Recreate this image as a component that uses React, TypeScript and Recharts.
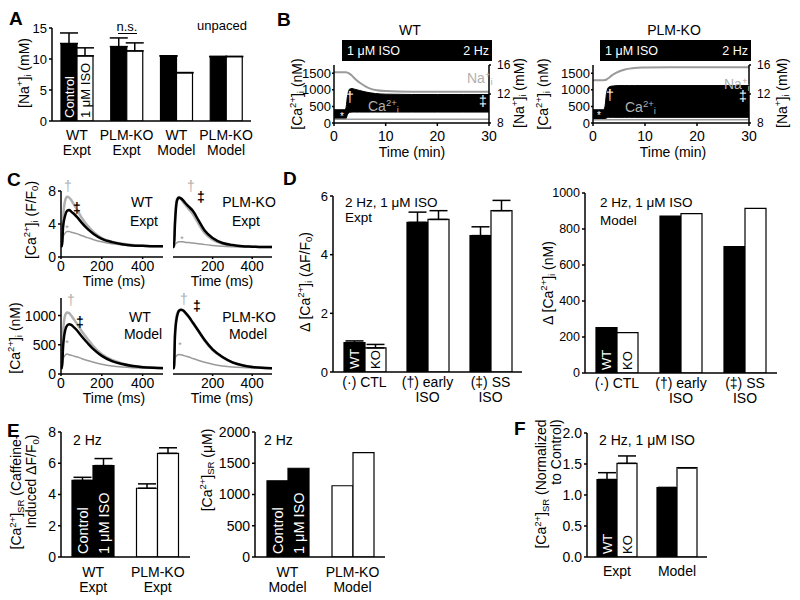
import React from 'react';
import {
  BarChart, Bar, XAxis, YAxis, ErrorBar, Cell, LabelList,
  LineChart, Line, ComposedChart, Area,
} from 'recharts';

const FONT = '"Liberation Sans", Arial, Helvetica, sans-serif';
const GRAY = '#9a9a9a';
const LIGHT = '#b0b0b0';
const BLK = '#000';
const WHT = '#fff';

// A: unpaced [Na]i
const aCats = ['WT\nExpt', 'PLM-KO\nExpt', 'WT\nModel', 'PLM-KO\nModel'];
const aControl = [12.5, 12.0, 10.5, 10.4];
const aControlErr = [1.7, 1.4, 0, 0];
const aIso = [10.5, 11.3, 7.8, 10.4];
const aIsoErr = [1.3, 1.3, 0, 0];
const aCtlText = ['Control', '', '', ''];
const aIsoText = ['1 μM ISO', '', '', ''];

// B: 30 min sweeps
const bTime = [0, 1, 2, 2.3, 2.6, 3, 3.5, 4, 5, 6, 7, 8, 10, 15, 20, 25, 30];
const wtCaSys = [400, 400, 400, 450, 800, 1020, 1040, 1020, 980, 940, 910, 890, 870, 860, 860, 860, 860];
const wtCaDia = [130, 130, 130, 130, 250, 320, 330, 330, 330, 330, 330, 330, 330, 330, 330, 330, 330];
const wtCaMin = [110, 110, 110, 110, 110, 110, 110, 110, 110, 110, 110, 110, 110, 110, 110, 110, 110];
const wtNa = [15.0, 15.0, 15.0, 15.0, 14.95, 14.8, 14.5, 14.15, 13.55, 13.1, 12.75, 12.55, 12.4, 12.3, 12.3, 12.3, 12.3];
const koCaSys = [400, 400, 400, 500, 900, 1080, 1110, 1120, 1130, 1130, 1130, 1130, 1130, 1130, 1130, 1130, 1130];
const koCaDia = [120, 120, 120, 120, 150, 170, 170, 170, 170, 170, 170, 170, 170, 170, 170, 170, 170];
const koCaMin = [100, 100, 100, 100, 100, 100, 100, 100, 100, 100, 100, 100, 100, 100, 100, 100, 100];
const koNa = [13.9, 13.9, 13.9, 13.92, 14.0, 14.2, 14.5, 14.75, 15.1, 15.35, 15.5, 15.6, 15.65, 15.7, 15.7, 15.7, 15.7];

// C: transients (dagger = early ISO, ddagger = steady state ISO, ctl = control)
const cTime = [0, 5, 10, 20, 30, 40, 50, 60, 80, 100, 130, 160, 200, 250, 300, 350, 400, 450, 500];
const wtExptEarly = [1.3, 1.4, 4.5, 6.8, 7.3, 7.2, 6.9, 6.5, 5.7, 4.8, 3.8, 3.0, 2.3, 1.85, 1.6, 1.45, 1.35, 1.3, 1.3];
const wtExptSS = [1.3, 1.3, 3.6, 5.0, 5.6, 5.7, 5.5, 5.3, 4.8, 4.2, 3.4, 2.8, 2.2, 1.8, 1.55, 1.4, 1.35, 1.3, 1.3];
const wtExptCtl = [1.3, 1.3, 2.4, 2.9, 3.1, 3.1, 3.0, 2.95, 2.8, 2.6, 2.35, 2.1, 1.85, 1.6, 1.45, 1.35, 1.3, 1.3, 1.3];
const koExptEarly = [1.2, 1.3, 4.5, 7.0, 7.2, 7.0, 6.7, 6.4, 5.8, 5.2, 4.0, 2.9, 2.1, 1.6, 1.4, 1.3, 1.25, 1.2, 1.2];
const koExptSS = [1.2, 1.2, 4.0, 6.8, 7.2, 7.1, 6.9, 6.6, 6.1, 5.6, 4.4, 3.2, 2.3, 1.7, 1.45, 1.3, 1.25, 1.2, 1.2];
const koExptCtl = [1.2, 1.2, 1.5, 1.75, 1.85, 1.85, 1.85, 1.8, 1.75, 1.7, 1.6, 1.5, 1.4, 1.3, 1.25, 1.22, 1.2, 1.2, 1.2];
const wtModelEarly = [100, 110, 700, 1000, 1050, 1040, 1000, 950, 850, 740, 600, 470, 340, 240, 180, 140, 120, 110, 105];
const wtModelSS = [100, 100, 450, 740, 830, 850, 840, 810, 740, 650, 530, 420, 310, 220, 170, 135, 115, 105, 100];
const wtModelCtl = [100, 100, 250, 320, 340, 330, 320, 310, 290, 265, 230, 200, 165, 135, 118, 108, 104, 102, 100];
const koModelEarly = [100, 110, 720, 1020, 1090, 1100, 1080, 1050, 970, 870, 720, 570, 410, 285, 198, 148, 118, 104, 100];
const koModelSS = [100, 100, 650, 980, 1080, 1100, 1090, 1060, 980, 880, 730, 580, 420, 290, 200, 150, 120, 105, 100];
const koModelCtl = [100, 100, 260, 320, 335, 330, 320, 310, 290, 265, 232, 202, 168, 138, 120, 110, 104, 102, 100];

// D: transient amplitudes
const dCats = ['(·) CTL', '(†) early\nISO', '(‡) SS\nISO'];
const dExptWT = [1.0, 5.1, 4.65];
const dExptWTErr = [0.06, 0.35, 0.3];
const dExptKO = [0.82, 5.2, 5.5];
const dExptKOErr = [0.12, 0.3, 0.35];
const dModelWT = [252, 872, 702];
const dModelKO = [224, 885, 915];
const dWtText = ['WT', '', ''];
const dKoText = ['KO', '', ''];

// E: SR load
const eExptCats = ['WT\nExpt', 'PLM-KO\nExpt'];
const eExptCtl = [4.9, 4.4];
const eExptCtlErr = [0.2, 0.28];
const eExptIso = [5.85, 6.63];
const eExptIsoErr = [0.45, 0.36];
const eModelCats = ['WT\nModel', 'PLM-KO\nModel'];
const eModelCtl = [1220, 1140];
const eModelIso = [1420, 1670];
const eCtlText = ['Control', ''];
const eIsoText = ['1 μM ISO', ''];

// F: normalized SR load
const fCats = ['Expt', 'Model'];
const fWT = [1.25, 1.12];
const fWTErr = [0.11, 0];
const fKO = [1.51, 1.44];
const fKOErr = [0.12, 0];
const fWtText = ['WT', ''];
const fKoText = ['KO', ''];

const AXIS = { stroke: BLK, strokeWidth: 1.5 };
const tk = (s: number) => ({ fontSize: s, fill: BLK, fontFamily: FONT });
const PAD = 10;

function frame(x0: number, x1: number, yTop: number, yBot: number, yw: number, xh: number, rw = 0) {
  return {
    left: x0 - yw,
    top: yTop - PAD,
    width: yw + (x1 - x0) + rw + (rw ? 0 : PAD),
    height: PAD + (yBot - yTop) + xh,
    margin: { top: PAD, right: rw ? 0 : PAD, left: 0, bottom: 0 },
  };
}

const Box = ({ f, children }: any) => (
  <div style={{ position: 'absolute', left: f.left, top: f.top }}>{children}</div>
);

const CatTick = (p: any) => {
  const { x, y, payload, d0 } = p;
  const lines = String(payload.value).split('\n');
  return (
    <text x={x} y={y} textAnchor="middle" fontSize={14} fill={BLK} fontFamily={FONT}>
      {lines.map((l, i) => (
        <tspan key={i} x={x} dy={i === 0 ? d0 : 15}>{l}</tspan>
      ))}
    </text>
  );
};

const InBar = (p: any) => {
  const vb = p.viewBox || p;
  if (!p.value) return null;
  const cx = Number(vb.x) + Number(vb.width) / 2;
  const by = Number(vb.y) + Number(vb.height) - 3;
  return (
    <text x={cx} y={by} transform={`rotate(-90 ${cx} ${by})`} fill={p.color} fontSize={p.size}
      fontFamily={FONT} dominantBaseline="central">{p.value}</text>
  );
};

type Series = { key: string; fills: string[]; err?: string; text?: string; textColor?: string };

function BarPanel(props: any) {
  const { x0, x1, yTop, yBot, yw, domain, ticks, fmt, rows, series, barSize, d0, tickSize = 13, textSize = 13 } = props;
  const f = frame(x0, x1, yTop, yBot, yw, 42);
  return (
    <Box f={f}>
      <BarChart width={f.width} height={f.height} margin={f.margin} data={rows} barGap={0} barSize={barSize}>
        <XAxis dataKey="cat" interval={0} height={42} tickLine={false} tickSize={0} tickMargin={0}
          axisLine={AXIS} tick={(p: any) => <CatTick {...p} d0={d0} />} />
        <YAxis domain={domain} ticks={ticks} width={yw} tickFormatter={fmt} allowDataOverflow interval={0}
          axisLine={AXIS} tickLine={AXIS} tickSize={3} tickMargin={2} tick={tk(tickSize)} />
        {(series as Series[]).map((s) => (
          <Bar key={s.key} dataKey={s.key} stroke={BLK} strokeWidth={1.2} isAnimationActive={false}>
            {rows.map((_: any, i: number) => <Cell key={i} fill={s.fills[i]} />)}
            {s.err ? <ErrorBar dataKey={s.err} width={9} stroke={BLK} strokeWidth={1.5} direction="y" /> : null}
            {s.text ? (
              <LabelList dataKey={s.text} content={(p: any) => <InBar {...p} color={s.textColor} size={textSize} />} />
            ) : null}
          </Bar>
        ))}
      </BarChart>
    </Box>
  );
}

function SweepPanel({ x0, x1, rows }: any) {
  const f = frame(x0, x1, 65, 123, 45, 26, 26);
  return (
    <Box f={f}>
      <ComposedChart width={f.width} height={f.height} margin={f.margin} data={rows}>
        <XAxis type="number" dataKey="t" domain={[0, 30]} ticks={[0, 10, 20, 30]} height={26}
          axisLine={AXIS} tickLine={AXIS} tickSize={3} tickMargin={5} tick={tk(14)} />
        <YAxis yAxisId="ca" domain={[0, 1750]} ticks={[0, 500, 1000, 1500]} width={45} interval={0}
          axisLine={AXIS} tickLine={AXIS} tickSize={2} tickMargin={1} tick={tk(13)} />
        <YAxis yAxisId="na" orientation="right" domain={[8, 16]} ticks={[8, 12, 16]} width={26} interval={0}
          axisLine={AXIS} tickLine={AXIS} tickSize={2} tickMargin={6} tick={tk(12)} />
        <Line yAxisId="ca" dataKey="floor" stroke={GRAY} strokeWidth={1.5} dot={false} isAnimationActive={false} />
        <Area yAxisId="ca" dataKey="ca" type="monotone" stroke={BLK} strokeWidth={1} fill={BLK} fillOpacity={1}
          isAnimationActive={false} />
        <Line yAxisId="na" dataKey="na" type="monotone" stroke={GRAY} strokeWidth={2} dot={false}
          isAnimationActive={false} />
      </ComposedChart>
    </Box>
  );
}

function TracePanel({ x0, x1, yTop, yBot, yw, domain, ticks, early, ss, ctl }: any) {
  const f = frame(x0, x1, yTop, yBot, yw, 24);
  const rows = cTime.map((t, i) => ({ t, early: early[i], ss: ss[i], ctl: ctl[i] }));
  return (
    <Box f={f}>
      <LineChart width={f.width} height={f.height} margin={f.margin} data={rows}>
        <XAxis type="number" dataKey="t" domain={[0, 500]} ticks={[0, 200, 400]} height={24}
          axisLine={AXIS} tickLine={AXIS} tickSize={2} tick={tk(14)} />
        <YAxis domain={domain} ticks={ticks} width={yw} interval={0} axisLine={AXIS}
          tickLine={ticks.length ? AXIS : false} tickSize={3} tickMargin={2} tick={ticks.length ? tk(14) : false} />
        <Line dataKey="ctl" type="monotone" stroke={GRAY} strokeWidth={1.5} dot={false} isAnimationActive={false} />
        <Line dataKey="early" type="monotone" stroke={LIGHT} strokeWidth={2.5} dot={false} isAnimationActive={false} />
        <Line dataKey="ss" type="monotone" stroke={BLK} strokeWidth={2.5} dot={false} isAnimationActive={false} />
      </LineChart>
    </Box>
  );
}

const T = ({ x, y, a = 'm', s = 14, c = BLK, b = false, children }: any) => {
  const tx = a === 'm' ? '-50%' : a === 'e' ? '-100%' : '0';
  return (
    <div style={{ position: 'absolute', left: x, top: y, transform: `translate(${tx}, -50%)`, fontSize: s,
      color: c, fontWeight: b ? 700 : 400, whiteSpace: 'nowrap', lineHeight: 1 }}>{children}</div>
  );
};

const V = ({ x, y, s = 14, children }: any) => (
  <div style={{ position: 'absolute', left: x, top: y, transform: 'translate(-50%, -50%) rotate(-90deg)',
    fontSize: s, whiteSpace: 'nowrap', lineHeight: 1.05, textAlign: 'right' }}>{children}</div>
);

const Sup = ({ children }: any) => (
  <span style={{ fontSize: '0.68em', verticalAlign: '0.55em', lineHeight: 0 }}>{children}</span>
);
const Sub = ({ children }: any) => (
  <span style={{ fontSize: '0.68em', verticalAlign: '-0.25em', lineHeight: 0 }}>{children}</span>
);

const IsoBox = ({ left, width }: any) => (
  <div style={{ position: 'absolute', left, top: 40, width, height: 21, background: BLK, color: WHT, fontSize: 12.5,
    display: 'flex', justifyContent: 'space-between', alignItems: 'center', padding: '0 3px 0 5px',
    boxSizing: 'border-box' }}>
    <span>1 μM ISO</span><span>2 Hz</span>
  </div>
);

const Letter = ({ x, y, children }: any) => <T x={x} y={y} a="s" s={19} b>{children}</T>;

export default function App() {
  const aRows = aCats.map((cat, i) => ({
    cat, ctl: aControl[i], ctlErr: [0, aControlErr[i]], iso: aIso[i], isoErr: [0, aIsoErr[i]],
    ctlText: aCtlText[i], isoText: aIsoText[i],
  }));
  const bWt = bTime.map((t, i) => ({ t, ca: [wtCaDia[i], wtCaSys[i]], floor: wtCaMin[i], na: wtNa[i] }));
  const bKo = bTime.map((t, i) => ({ t, ca: [koCaDia[i], koCaSys[i]], floor: koCaMin[i], na: koNa[i] }));
  const dExptRows = dCats.map((cat, i) => ({
    cat, wt: dExptWT[i], wtErr: [0, dExptWTErr[i]], ko: dExptKO[i], koErr: [0, dExptKOErr[i]],
    wtText: dWtText[i], koText: dKoText[i],
  }));
  const dModelRows = dCats.map((cat, i) => ({
    cat, wt: dModelWT[i], ko: dModelKO[i], wtText: dWtText[i], koText: dKoText[i],
  }));
  const eExptRows = eExptCats.map((cat, i) => ({
    cat, ctl: eExptCtl[i], ctlErr: [0, eExptCtlErr[i]], iso: eExptIso[i], isoErr: [0, eExptIsoErr[i]],
    ctlText: eCtlText[i], isoText: eIsoText[i],
  }));
  const eModelRows = eModelCats.map((cat, i) => ({
    cat, ctl: eModelCtl[i], iso: eModelIso[i], ctlText: eCtlText[i], isoText: eIsoText[i],
  }));
  const fRows = fCats.map((cat, i) => ({
    cat, wt: fWT[i], wtErr: [0, fWTErr[i]], ko: fKO[i], koErr: [0, fKOErr[i]], wtText: fWtText[i], koText: fKoText[i],
  }));

  const byGenotype = [BLK, WHT];

  return (
    <div style={{ position: 'fixed', left: 0, top: 0, width: 800, height: 600, background: WHT,
      fontFamily: FONT, color: BLK, overflow: 'hidden' }}>
      {/* A */}
      <BarPanel x0={52} x1={251} yTop={28} yBot={121} yw={30} domain={[0, 15]} ticks={[0, 5, 10, 15]}
        rows={aRows} barSize={16} d0={19}
        series={[
          { key: 'ctl', fills: [BLK, BLK, BLK, BLK], err: 'ctlErr', text: 'ctlText', textColor: WHT },
          { key: 'iso', fills: [WHT, WHT, WHT, WHT], err: 'isoErr', text: 'isoText', textColor: BLK },
        ]} />
      <Letter x={9} y={18}>A</Letter>
      <V x={24} y={73}>[Na<Sup>+</Sup>]<Sub>i</Sub> (mM)</V>
      <T x={127} y={26} s={13}>n.s.</T>
      <div style={{ position: 'absolute', left: 118, top: 33, width: 19, borderTop: '1.5px solid #000' }} />
      <T x={222} y={25} s={13}>unpaced</T>

      {/* B */}
      <SweepPanel x0={334} x1={489} rows={bWt} />
      <SweepPanel x0={593} x1={749} rows={bKo} />
      <Letter x={277} y={19}>B</Letter>
      <T x={410} y={30}>WT</T>
      <T x={674} y={30}>PLM-KO</T>
      <IsoBox left={342} width={150} />
      <IsoBox left={600} width={151} />
      <V x={297} y={94}>[Ca<Sup>2+</Sup>]<Sub>i</Sub> (nM)</V>
      <V x={519} y={93}>[Na<Sup>+</Sup>]<Sub>i</Sub> (mM)</V>
      <V x={543} y={94}>[Ca<Sup>2+</Sup>]<Sub>i</Sub> (nM)</V>
      <V x={782} y={93}>[Na<Sup>+</Sup>]<Sub>i</Sub> (mM)</V>
      <T x={467} y={78} a="s" c={LIGHT}>Na<Sup>+</Sup><Sub>i</Sub></T>
      <T x={724} y={84} a="s" c={LIGHT}>Na<Sup>+</Sup><Sub>i</Sub></T>
      <T x={368} y={106} a="s" c={LIGHT}>Ca<Sup>2+</Sup><Sub>i</Sub></T>
      <T x={625} y={107} a="s" c={LIGHT}>Ca<Sup>2+</Sup><Sub>i</Sub></T>
      <T x={350} y={97} c={WHT}>†</T>
      <T x={483} y={101} c={WHT}>‡</T>
      <T x={610} y={95} c={WHT}>†</T>
      <T x={743} y={96} c={WHT}>‡</T>
      <T x={342} y={117} s={10} c={WHT}>*</T>
      <T x={599} y={116} s={10} c={WHT}>*</T>
      <T x={412} y={152}>Time (min)</T>
      <T x={673} y={152}>Time (min)</T>

      {/* C */}
      <TracePanel x0={61} x1={163} yTop={191} yBot={257} yw={22} domain={[0, 8]} ticks={[0, 4, 8]}
        early={wtExptEarly} ss={wtExptSS} ctl={wtExptCtl} />
      <TracePanel x0={173} x1={272} yTop={191} yBot={257} yw={0} domain={[0, 8]} ticks={[]}
        early={koExptEarly} ss={koExptSS} ctl={koExptCtl} />
      <TracePanel x0={61} x1={163} yTop={298} yBot={374} yw={42} domain={[0, 1300]} ticks={[0, 500, 1000]}
        early={wtModelEarly} ss={wtModelSS} ctl={wtModelCtl} />
      <TracePanel x0={173} x1={272} yTop={298} yBot={374} yw={0} domain={[0, 1300]} ticks={[]}
        early={koModelEarly} ss={koModelSS} ctl={koModelCtl} />
      <Letter x={7} y={179}>C</Letter>
      <V x={31} y={220}>[Ca<Sup>2+</Sup>]<Sub>i</Sub> (F/F<Sub>0</Sub>)</V>
      <V x={15} y={338}>[Ca<Sup>2+</Sup>]<Sub>i</Sub> (nM)</V>
      <T x={142} y={202}>WT</T>
      <T x={144} y={221}>Expt</T>
      <T x={249} y={202}>PLM-KO</T>
      <T x={246} y={221}>Expt</T>
      <T x={140} y={317}>WT</T>
      <T x={143} y={334}>Model</T>
      <T x={249} y={317}>PLM-KO</T>
      <T x={248} y={334}>Model</T>
      <T x={68} y={186} c={LIGHT}>†</T>
      <T x={77} y={208} b>‡</T>
      <T x={67} y={228} s={9} c={GRAY}>*</T>
      <T x={191} y={186} c={LIGHT}>†</T>
      <T x={201} y={197} b>‡</T>
      <T x={182} y={239} s={9} c={GRAY}>*</T>
      <T x={71} y={300} c={LIGHT}>†</T>
      <T x={80} y={322} b>‡</T>
      <T x={67} y={343} s={9} c={GRAY}>*</T>
      <T x={184} y={299} c={LIGHT}>†</T>
      <T x={197} y={306} b>‡</T>
      <T x={180} y={345} s={9} c={GRAY}>*</T>
      <T x={114} y={281}>Time (ms)</T>
      <T x={222} y={281}>Time (ms)</T>
      <T x={114} y={398}>Time (ms)</T>
      <T x={222} y={398}>Time (ms)</T>

      {/* D */}
      <BarPanel x0={333} x1={522} yTop={196} yBot={372} yw={26} domain={[0, 6]} ticks={[0, 2, 4, 6]}
        rows={dExptRows} barSize={21} d0={15} tickSize={13}
        series={[
          { key: 'wt', fills: [BLK, BLK, BLK], err: 'wtErr', text: 'wtText', textColor: WHT },
          { key: 'ko', fills: [WHT, WHT, WHT], err: 'koErr', text: 'koText', textColor: BLK },
        ]} />
      <BarPanel x0={585} x1={777} yTop={193} yBot={373} yw={40} domain={[0, 1000]} ticks={[0, 200, 400, 600, 800, 1000]}
        rows={dModelRows} barSize={21} d0={15} tickSize={12.5}
        series={[
          { key: 'wt', fills: [BLK, BLK, BLK], text: 'wtText', textColor: WHT },
          { key: 'ko', fills: [WHT, WHT, WHT], text: 'koText', textColor: BLK },
        ]} />
      <Letter x={283} y={178}>D</Letter>
      <T x={345} y={203} a="s" s={13.5}>2 Hz, 1 μM ISO</T>
      <T x={345} y={218} a="s" s={13.5}>Expt</T>
      <T x={600} y={203} a="s" s={13.5}>2 Hz, 1 μM ISO</T>
      <T x={600} y={221} a="s" s={13.5}>Model</T>
      <V x={305} y={282}>Δ [Ca<Sup>2+</Sup>]<Sub>i</Sub> (ΔF/F<Sub>0</Sub>)</V>
      <V x={548} y={283}>Δ [Ca<Sup>2+</Sup>]<Sub>i</Sub> (nM)</V>

      {/* E */}
      <BarPanel x0={61} x1={190} yTop={432} yBot={557} yw={24} domain={[0, 8]} ticks={[0, 2, 4, 6, 8]}
        rows={eExptRows} barSize={21} d0={20} tickSize={14} textSize={14.5}
        series={[
          { key: 'ctl', fills: byGenotype, err: 'ctlErr', text: 'ctlText', textColor: WHT },
          { key: 'iso', fills: byGenotype, err: 'isoErr', text: 'isoText', textColor: WHT },
        ]} />
      <BarPanel x0={255} x1={385} yTop={432} yBot={557} yw={40} domain={[0, 2000]} ticks={[0, 500, 1000, 1500, 2000]}
        rows={eModelRows} barSize={21} d0={20} tickSize={14} textSize={14.5}
        series={[
          { key: 'ctl', fills: byGenotype, text: 'ctlText', textColor: WHT },
          { key: 'iso', fills: byGenotype, text: 'isoText', textColor: WHT },
        ]} />
      <Letter x={7} y={430}>E</Letter>
      <T x={73} y={440} a="s">2 Hz</T>
      <T x={264} y={440} a="s">2 Hz</T>
      <V x={24} y={492}>
        <div>[Ca<Sup>2+</Sup>]<Sub>SR</Sub> (Caffeine-</div>
        <div>Induced ΔF/F<Sub>0</Sub>)</div>
      </V>
      <V x={207} y={470}>[Ca<Sup>2+</Sup>]<Sub>SR</Sub> (μM)</V>

      {/* F */}
      <BarPanel x0={587} x1={707} yTop={433} yBot={557} yw={32} domain={[0, 2]} ticks={[0, 0.5, 1, 1.5, 2]}
        fmt={(v: number) => v.toFixed(1)} rows={fRows} barSize={20} d0={19} tickSize={14}
        series={[
          { key: 'wt', fills: [BLK, BLK], err: 'wtErr', text: 'wtText', textColor: WHT },
          { key: 'ko', fills: [WHT, WHT], err: 'koErr', text: 'koText', textColor: BLK },
        ]} />
      <Letter x={514} y={428}>F</Letter>
      <T x={599} y={440} a="s">2 Hz, 1 μM ISO</T>
      <V x={549} y={484}>
        <div>[Ca<Sup>2+</Sup>]<Sub>SR</Sub> (Normalized</div>
        <div>to Control)</div>
      </V>
    </div>
  );
}
